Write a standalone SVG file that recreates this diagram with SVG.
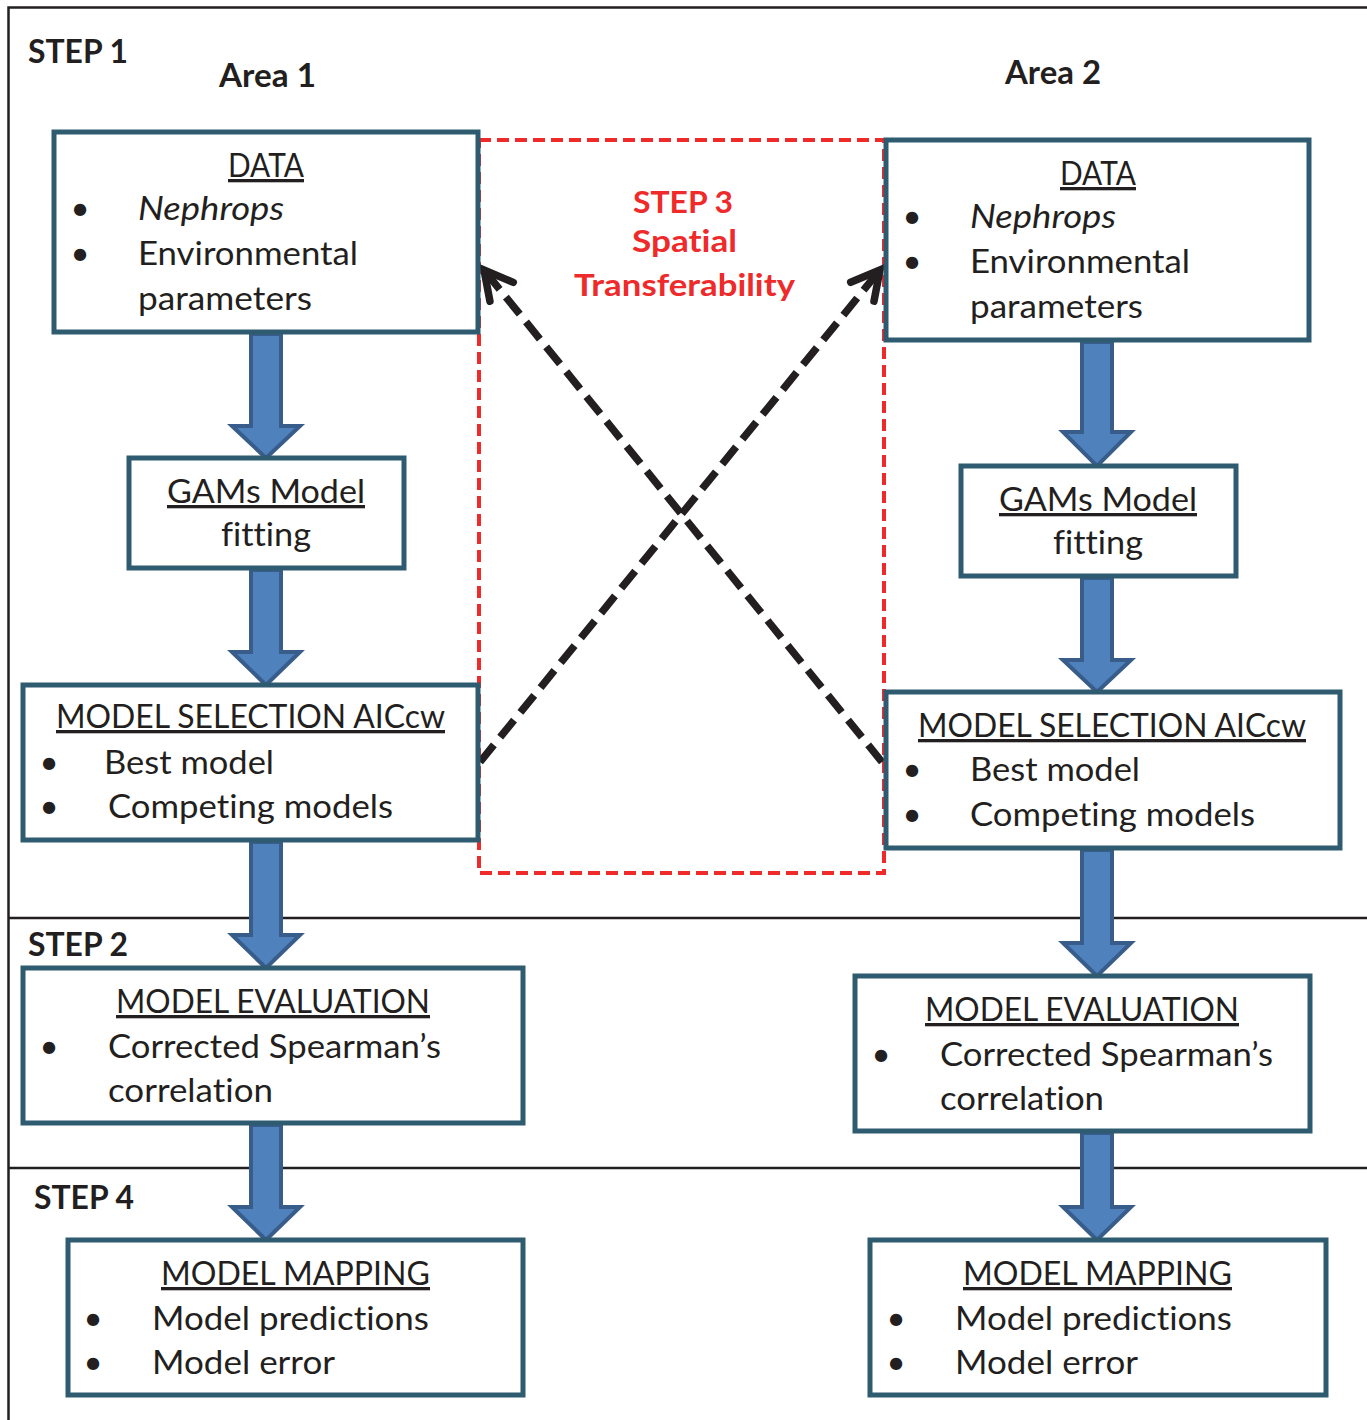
<svg xmlns="http://www.w3.org/2000/svg" width="1367" height="1420" viewBox="0 0 1367 1420">
<style>
.frame{fill:none;stroke:#231F20;stroke-width:2.5}
.box{fill:#FFFFFF;stroke:#2E5B70;stroke-width:5}
.barrow{fill:#4F81BD;stroke:#385D8A;stroke-width:4;stroke-linejoin:miter}
.t{font-family:Lato,"Open Sans","Liberation Sans",sans-serif;font-size:33px;fill:#231F20;font-variant-ligatures:none}
.h{text-decoration:underline}
.i{font-style:italic}
.b{font-weight:bold}
.red{fill:#EE2A2A;font-size:30px;font-weight:bold}
.reddash{fill:none;stroke:#EE2A2A;stroke-width:4;stroke-dasharray:12 6}
.xline{fill:none;stroke:#231F20;stroke-width:7.5;stroke-dasharray:22 10}
</style>
<defs>
<marker id="chev" markerUnits="userSpaceOnUse" orient="auto" viewBox="-45 -30 55 60" refX="0" refY="0" markerWidth="55" markerHeight="60">
<path d="M -28,-15 L 0,0 L -28,15" fill="none" stroke="#231F20" stroke-width="7.5" stroke-linecap="round" stroke-linejoin="miter" stroke-dasharray="none"/>
</marker>
</defs>
<rect x="0" y="0" width="1367" height="1420" fill="#FFFFFF"/>
<g id="frame">
<path class="frame" d="M 1367,7.5 H 8.5 V 1420"/>
<line class="frame" x1="8.5" y1="918" x2="1367" y2="918"/>
<line class="frame" x1="8.5" y1="1168" x2="1367" y2="1168"/>
</g>
<g id="labels">
<text class="t b" x="28" y="63" textLength="100" lengthAdjust="spacingAndGlyphs">STEP 1</text>
<text class="t b" x="219" y="87" textLength="97" lengthAdjust="spacingAndGlyphs">Area 1</text>
<text class="t b" x="1005" y="84" textLength="96" lengthAdjust="spacingAndGlyphs">Area 2</text>
<text class="t b" x="28" y="956" textLength="100" lengthAdjust="spacingAndGlyphs">STEP 2</text>
<text class="t b" x="34" y="1209" textLength="100" lengthAdjust="spacingAndGlyphs">STEP 4</text>
</g>
<g id="step3">
<rect class="reddash" x="479" y="140" width="405" height="733"/>
<text class="t red" x="633" y="213" textLength="100" lengthAdjust="spacingAndGlyphs">STEP 3</text>
<text class="t red" x="632" y="252" textLength="105" lengthAdjust="spacingAndGlyphs">Spatial</text>
<text class="t red" x="574" y="296" textLength="221" lengthAdjust="spacingAndGlyphs">Transferability</text>
</g>
<g id="connectors">
<path class="barrow" d="M 251,334 V 426 H 232 L 266,458 L 300,426 H 281 V 334 Z"/>
<path class="barrow" d="M 251,570 V 652 H 232 L 266,685 L 300,652 H 281 V 570 Z"/>
<path class="barrow" d="M 251,842 V 935 H 232 L 266,968 L 300,935 H 281 V 842 Z"/>
<path class="barrow" d="M 251,1125 V 1207 H 232 L 266,1240 L 300,1207 H 281 V 1125 Z"/>
<path class="barrow" d="M 1082,342 V 432 H 1063 L 1097,466 L 1131,432 H 1112 V 342 Z"/>
<path class="barrow" d="M 1082,578 V 660 H 1063 L 1097,692 L 1131,660 H 1112 V 578 Z"/>
<path class="barrow" d="M 1082,850 V 943 H 1063 L 1097,976 L 1131,943 H 1112 V 850 Z"/>
<path class="barrow" d="M 1082,1133 V 1207 H 1063 L 1097,1240 L 1131,1207 H 1112 V 1133 Z"/>
<path class="xline" d="M 480,762 L 880,270" marker-end="url(#chev)"/>
<path class="xline" d="M 882,762 L 484,270" marker-end="url(#chev)"/>
</g>
<g id="left-data">
<rect class="box" x="54" y="132" width="424" height="200"/>
<text class="t h" x="228" y="177" textLength="76" lengthAdjust="spacingAndGlyphs">DATA</text>
<text class="t" x="80" y="220" text-anchor="middle">•</text>
<text class="t i" x="138" y="220" textLength="146" lengthAdjust="spacingAndGlyphs">Nephrops</text>
<text class="t" x="80" y="265" text-anchor="middle">•</text>
<text class="t" x="138" y="265" textLength="220" lengthAdjust="spacingAndGlyphs">Environmental</text>
<text class="t" x="138" y="310" textLength="174" lengthAdjust="spacingAndGlyphs">parameters</text>
</g>
<g id="left-gams">
<rect class="box" x="129" y="458" width="275" height="110"/>
<text class="t h" x="167" y="503" textLength="198" lengthAdjust="spacingAndGlyphs">GAMs Model</text>
<text class="t" x="221" y="546" textLength="90" lengthAdjust="spacingAndGlyphs">fitting</text>
</g>
<g id="left-selection">
<rect class="box" x="23" y="685" width="455" height="155"/>
<text class="t h" x="56" y="728" textLength="389" lengthAdjust="spacingAndGlyphs">MODEL SELECTION AICcw</text>
<text class="t" x="49" y="774" text-anchor="middle">•</text>
<text class="t" x="104" y="774" textLength="170" lengthAdjust="spacingAndGlyphs">Best model</text>
<text class="t" x="49" y="818" text-anchor="middle">•</text>
<text class="t" x="108" y="818" textLength="285" lengthAdjust="spacingAndGlyphs">Competing models</text>
</g>
<g id="left-evaluation">
<rect class="box" x="23" y="968" width="500" height="155"/>
<text class="t h" x="116" y="1013" textLength="314" lengthAdjust="spacingAndGlyphs">MODEL EVALUATION</text>
<text class="t" x="49" y="1058" text-anchor="middle">•</text>
<text class="t" x="108" y="1058" textLength="333" lengthAdjust="spacingAndGlyphs">Corrected Spearman’s</text>
<text class="t" x="108" y="1102" textLength="165" lengthAdjust="spacingAndGlyphs">correlation</text>
</g>
<g id="left-mapping">
<rect class="box" x="68" y="1240" width="455" height="155"/>
<text class="t h" x="161" y="1285" textLength="269" lengthAdjust="spacingAndGlyphs">MODEL MAPPING</text>
<text class="t" x="93" y="1330" text-anchor="middle">•</text>
<text class="t" x="152" y="1330" textLength="277" lengthAdjust="spacingAndGlyphs">Model predictions</text>
<text class="t" x="93" y="1374" text-anchor="middle">•</text>
<text class="t" x="152" y="1374" textLength="183" lengthAdjust="spacingAndGlyphs">Model error</text>
</g>
<g id="right-data">
<rect class="box" x="886" y="140" width="423" height="200"/>
<text class="t h" x="1060" y="185" textLength="76" lengthAdjust="spacingAndGlyphs">DATA</text>
<text class="t" x="912" y="228" text-anchor="middle">•</text>
<text class="t i" x="970" y="228" textLength="146" lengthAdjust="spacingAndGlyphs">Nephrops</text>
<text class="t" x="912" y="273" text-anchor="middle">•</text>
<text class="t" x="970" y="273" textLength="220" lengthAdjust="spacingAndGlyphs">Environmental</text>
<text class="t" x="970" y="318" textLength="173" lengthAdjust="spacingAndGlyphs">parameters</text>
</g>
<g id="right-gams">
<rect class="box" x="961" y="466" width="275" height="110"/>
<text class="t h" x="999" y="511" textLength="198" lengthAdjust="spacingAndGlyphs">GAMs Model</text>
<text class="t" x="1053" y="554" textLength="90" lengthAdjust="spacingAndGlyphs">fitting</text>
</g>
<g id="right-selection">
<rect class="box" x="886" y="692" width="454" height="156"/>
<text class="t h" x="918" y="737" textLength="388" lengthAdjust="spacingAndGlyphs">MODEL SELECTION AICcw</text>
<text class="t" x="912" y="781" text-anchor="middle">•</text>
<text class="t" x="970" y="781" textLength="170" lengthAdjust="spacingAndGlyphs">Best model</text>
<text class="t" x="912" y="826" text-anchor="middle">•</text>
<text class="t" x="970" y="826" textLength="285" lengthAdjust="spacingAndGlyphs">Competing models</text>
</g>
<g id="right-evaluation">
<rect class="box" x="855" y="976" width="455" height="155"/>
<text class="t h" x="925" y="1021" textLength="314" lengthAdjust="spacingAndGlyphs">MODEL EVALUATION</text>
<text class="t" x="881" y="1066" text-anchor="middle">•</text>
<text class="t" x="940" y="1066" textLength="333" lengthAdjust="spacingAndGlyphs">Corrected Spearman’s</text>
<text class="t" x="940" y="1110" textLength="164" lengthAdjust="spacingAndGlyphs">correlation</text>
</g>
<g id="right-mapping">
<rect class="box" x="870" y="1240" width="456" height="155"/>
<text class="t h" x="963" y="1285" textLength="269" lengthAdjust="spacingAndGlyphs">MODEL MAPPING</text>
<text class="t" x="896" y="1330" text-anchor="middle">•</text>
<text class="t" x="955" y="1330" textLength="277" lengthAdjust="spacingAndGlyphs">Model predictions</text>
<text class="t" x="896" y="1374" text-anchor="middle">•</text>
<text class="t" x="955" y="1374" textLength="183" lengthAdjust="spacingAndGlyphs">Model error</text>
</g>
</svg>
